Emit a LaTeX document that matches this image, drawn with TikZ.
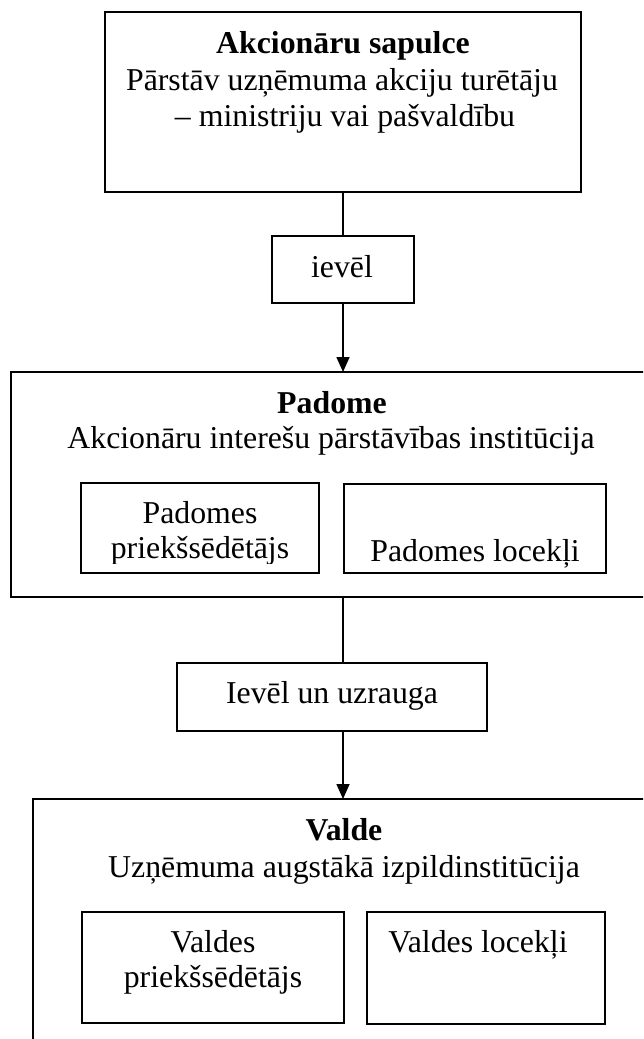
\documentclass[tikz,border=0pt]{standalone}
\usepackage{fontspec}
\setmainfont{Liberation Serif}
\usetikzlibrary{arrows.meta}
\begin{document}
\begin{tikzpicture}[x=1pt,y=-1pt,
  box/.style={draw=black, line width=1.9pt, rectangle, inner sep=0pt, outer sep=0pt},
  inbox/.style={draw=black, line width=1.6pt, rectangle, inner sep=0pt, outer sep=0pt},
  txt/.style={anchor=base, inner sep=0pt, font=\fontsize{31.8}{36}\selectfont},
  btxt/.style={txt, font=\fontsize{31.8}{36}\selectfont\bfseries},
  conn/.style={line width=1.6pt},
  arr/.style={line width=1.6pt, -{Triangle[length=15pt,width=13pt]}}]
\useasboundingbox (0,0) rectangle (643,1039);
\clip (0,0) rectangle (643,1039);
\fill[white] (0,0) rectangle (643,1039);
% boxes
\node[box, minimum width=476pt, minimum height=180pt] (top) at (343,102) {};
\node[inbox, minimum width=142pt, minimum height=67pt] (ievel) at (343,269.5) {};
\node[box, minimum width=649pt, minimum height=225pt] (padome) at (335.5,484.5) {};
\node[inbox, minimum width=238pt, minimum height=90pt] (pl) at (200,528) {};
\node[inbox, minimum width=262pt, minimum height=89pt] (pr) at (475,528.5) {};
\node[inbox, minimum width=310pt, minimum height=68pt] (uzr) at (332,697) {};
\node[box, minimum width=627pt, minimum height=261pt] (valde) at (346.5,929.5) {};
\node[inbox, minimum width=262pt, minimum height=111pt] (vl) at (213,967.5) {};
\node[inbox, minimum width=238pt, minimum height=112pt] (vr) at (486,968) {};
% connectors
\draw[conn] (top.south) -- (ievel.north);
\draw[arr] (ievel.south) -- (ievel.south |- padome.north);
\draw[conn] (padome.south -| top.south) -- (uzr.north -| top.south);
\draw[arr] (uzr.south -| top.south) -- (valde.north -| top.south);
% texts
\node[btxt] (t1) at (343,53) {Akcionāru sapulce};
\node[txt] (t2) at (342,90) {Pārstāv uzņēmuma akciju turētāju};
\node[txt] (t3) at (345,126) {– ministriju vai pašvaldību};
\node[txt] (t4) at (342,277) {ievēl};
\node[btxt] (t5) at (332,413) {Padome};
\node[txt] (t6) at (331,448) {Akcionāru interešu pārstāvības institūcija};
\node[txt] (t7) at (200,523) {Padomes};
\begin{scope}
\clip (81,483) rectangle (319,563);
\node[txt] (t8) at (200,558) {priekšsēdētājs};
\end{scope}
\node[txt] (t9) at (475,561) {Padomes locekļi};
\node[txt] (t10) at (332,703) {Ievēl un uzrauga};
\node[btxt] (t11) at (344,840) {Valde};
\node[txt] (t12) at (344,877) {Uzņēmuma augstākā izpildinstitūcija};
\node[txt] (t13) at (213,952) {Valdes};
\node[txt] (t14) at (213,987) {priekšsēdētājs};
\node[txt] (t15) at (478,952) {Valdes locekļi};
\end{tikzpicture}
\end{document}
